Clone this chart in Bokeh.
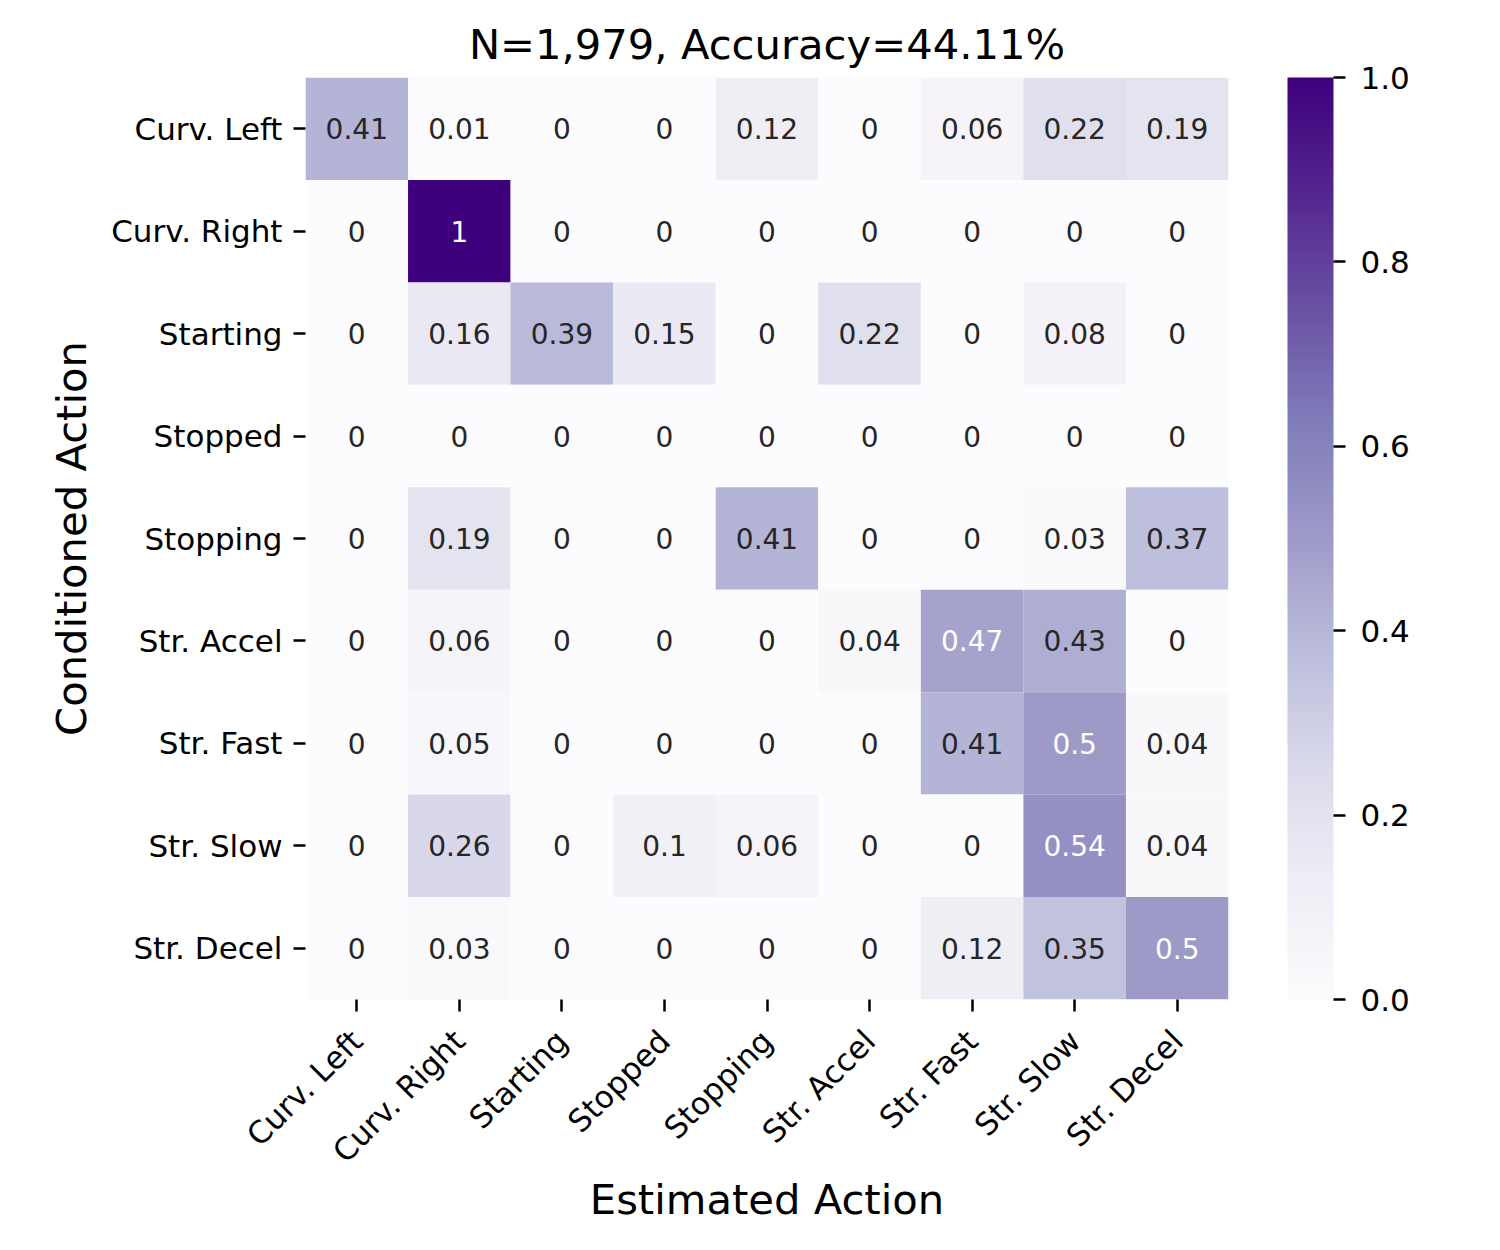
import numpy as np
from bokeh.plotting import figure
from bokeh.models import (ColumnDataSource, FactorRange, LinearColorMapper, ColorBar,
                          FixedTicker, PrintfTickFormatter)
from bokeh.core.properties import value
from bokeh.embed import file_html
from bokeh.resources import INLINE

# ---------------- data ----------------
actions = ["Curv. Left", "Curv. Right", "Starting", "Stopped", "Stopping",
           "Str. Accel", "Str. Fast", "Str. Slow", "Str. Decel"]

row_curv_left  = [0.41, 0.01, 0, 0, 0.12, 0, 0.06, 0.22, 0.19]
row_curv_right = [0, 1, 0, 0, 0, 0, 0, 0, 0]
row_starting   = [0, 0.16, 0.39, 0.15, 0, 0.22, 0, 0.08, 0]
row_stopped    = [0, 0, 0, 0, 0, 0, 0, 0, 0]
row_stopping   = [0, 0.19, 0, 0, 0.41, 0, 0, 0.03, 0.37]
row_str_accel  = [0, 0.06, 0, 0, 0, 0.04, 0.47, 0.43, 0]
row_str_fast   = [0, 0.05, 0, 0, 0, 0, 0.41, 0.5, 0.04]
row_str_slow   = [0, 0.26, 0, 0.1, 0.06, 0, 0, 0.54, 0.04]
row_str_decel  = [0, 0.03, 0, 0, 0, 0, 0.12, 0.35, 0.5]

rows = [row_curv_left, row_curv_right, row_starting, row_stopped, row_stopping,
        row_str_accel, row_str_fast, row_str_slow, row_str_decel]

cbar_ticks = [0.0, 0.2, 0.4, 0.6, 0.8, 1.0]
title_text = "N=1,979, Accuracy=44.11%"

# ---------------- colormap (matplotlib Purples) ----------------
purples_ctrl = ["#fcfbfd", "#efedf5", "#dadaeb", "#bcbddc", "#9e9ac8",
                "#807dba", "#6a51a3", "#54278f", "#3f007d"]
ctrl = np.array([[int(c[i:i + 2], 16) for i in (1, 3, 5)] for c in purples_ctrl], float)
pos = np.linspace(0, 1, len(ctrl))
t = np.linspace(0, 1, 256)
pal_rgb = np.stack([np.interp(t, pos, ctrl[:, k]) for k in range(3)], axis=1)
palette = ["#%02x%02x%02x" % tuple(int(round(v)) for v in c) for c in pal_rgb]

# ---------------- build table ----------------
xs, ys, vals, txt, tcol = [], [], [], [], []
for r, row in zip(actions, rows):
    for c, v in zip(actions, row):
        xs.append(c)
        ys.append(r)
        vals.append(v)
        txt.append(format(v, "g"))
        tcol.append("#ffffff" if v > 0.45 else "#262626")

src = ColumnDataSource(dict(x=xs, y=ys, v=vals, t=txt, tc=tcol))

mapper = LinearColorMapper(palette=palette, low=0, high=1)

FONT = "DejaVu Sans"

p = figure(x_range=FactorRange(factors=actions),
           y_range=FactorRange(factors=list(reversed(actions))),
           frame_width=923, frame_height=922,
           min_border_left=305, min_border_top=77, min_border_bottom=20,
           min_border_right=20,
           output_backend="svg", toolbar_location=None,
           title=title_text)

p.rect(x="x", y="y", width=1, height=1, source=src,
       fill_color={"field": "v", "transform": mapper}, line_color=None)

p.text(x="x", y="y", text="t", source=src, text_color="tc",
       text_align="center", text_baseline="middle",
       text_font=value(FONT), text_font_size=value("28px"))

# title
p.title.text_font = FONT
p.title.text_font_size = "41.7px"
p.title.text_font_style = "normal"
p.title.align = "center"
p.title.text_color = "black"
p.title.standoff = 18

# axes
for ax in (p.xaxis[0], p.yaxis[0]):
    ax.axis_line_color = None
    ax.major_tick_in = 0
    ax.major_tick_out = 12
    ax.major_tick_line_width = 2.5
    ax.major_tick_line_color = "black"
    ax.major_label_text_font = FONT
    ax.major_label_text_font_size = "31px"
    ax.major_label_text_color = "black"
    ax.axis_label_text_font = FONT
    ax.axis_label_text_font_size = "41.7px"
    ax.axis_label_text_font_style = "normal"
    ax.axis_label_text_color = "black"

p.yaxis.major_label_standoff = 11
p.xaxis.major_label_standoff = 24
p.xaxis.axis_label = "Estimated Action"
p.yaxis.axis_label = "Conditioned Action"
p.xaxis.major_label_orientation = np.pi / 4
p.xaxis.axis_label_standoff = -10
p.yaxis.axis_label_standoff = 12

p.xgrid.visible = False
p.ygrid.visible = False
p.outline_line_color = None
p.background_fill_color = "white"
p.border_fill_color = "white"

color_bar = ColorBar(color_mapper=mapper,
                     ticker=FixedTicker(ticks=cbar_ticks),
                     formatter=PrintfTickFormatter(format="%.1f"),
                     width=46, height=922, padding=0, margin=0,
                     location=(59, 0),
                     major_tick_in=0, major_tick_out=12,
                     major_tick_line_color="black", major_tick_line_width=2.5,
                     minor_tick_line_color=None,
                     bar_line_color=None, border_line_color=None,
                     background_fill_color=None,
                     label_standoff=15,
                     major_label_text_font=FONT,
                     major_label_text_font_size="31px",
                     major_label_text_color="black")
p.add_layout(color_bar, "right")

open("out.html", "w").write(file_html(p, INLINE))
